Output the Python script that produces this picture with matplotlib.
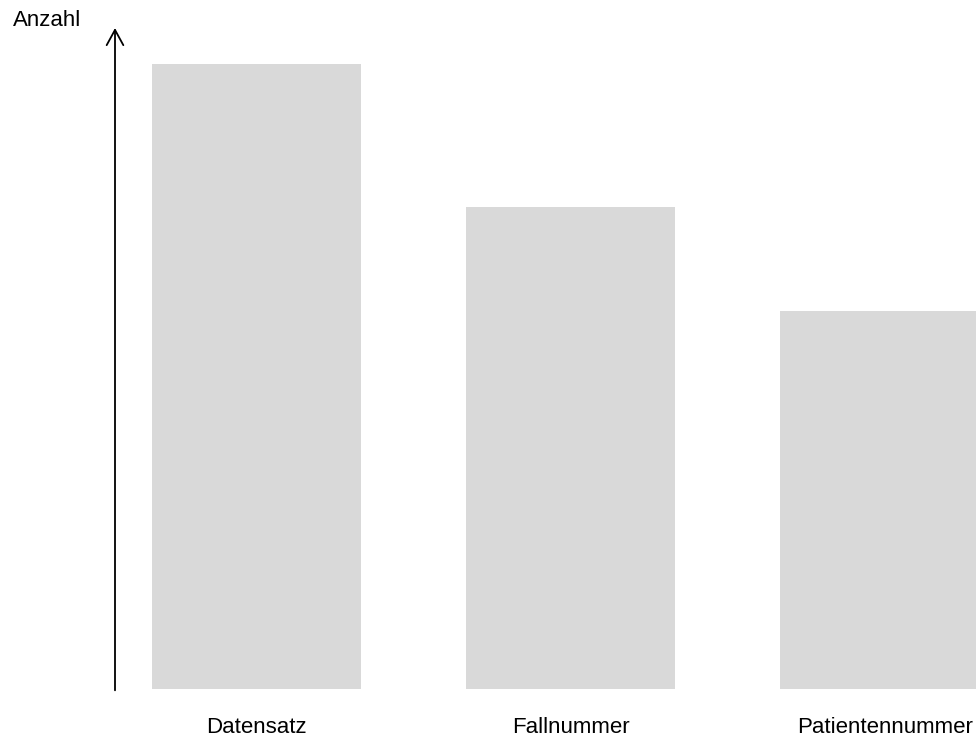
import matplotlib.pyplot as plt

plt.rcParams['font.family'] = ['Liberation Sans', 'DejaVu Sans']

# Data (relative counts)
categories = ["Datensatz", "Fallnummer", "Patientennummer"]
counts = [625, 482, 378]

fig = plt.figure(figsize=(9.76, 7.38), dpi=100)
# axes placed in figure pixels: left 115, right 976, bottom 689, top 28
ax = fig.add_axes([115 / 976, 49 / 738, (976 - 115) / 976, (689 - 28) / 738])

x = range(len(categories))
ax.bar(x, counts, width=0.667, color="#d9d9d9")

ax.set_xlim(-0.45, 2.29)
ax.set_ylim(0, 661)

for s in ax.spines.values():
    s.set_visible(False)
ax.set_yticks([])
ax.set_xticks(list(x))
ax.set_xticklabels(categories, fontsize=16)
ax.tick_params(axis="x", length=0, pad=20)

# y axis as arrow
ax.annotate("", xy=(0, 1), xytext=(0, -0.002), xycoords="axes fraction",
            arrowprops=dict(arrowstyle="->,head_length=1.1,head_width=0.6",
                            mutation_scale=10, color="black", lw=1.3,
                            shrinkA=0, shrinkB=0))

fig.text(12.7 / 976, 1 - 20 / 738, "Anzahl", fontsize=16, va="center", ha="left")

fig.savefig("out.png", dpi=100)
